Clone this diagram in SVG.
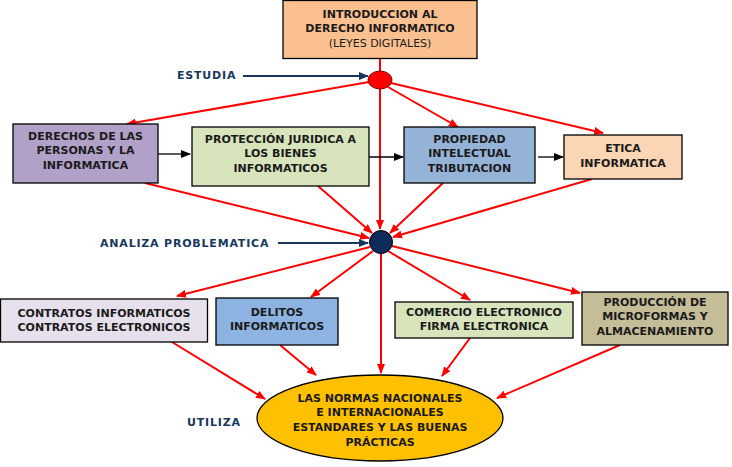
<svg xmlns="http://www.w3.org/2000/svg" width="732" height="467" viewBox="0 0 732 467">
<defs>
<marker id="ar" markerWidth="10" markerHeight="8" refX="9" refY="4" orient="auto" markerUnits="userSpaceOnUse"><path d="M0,0 L10,4 L0,8 z" fill="#FF0000"/></marker>
<marker id="ab" markerWidth="10" markerHeight="8" refX="9" refY="4" orient="auto" markerUnits="userSpaceOnUse"><path d="M0,0 L10,4 L0,8 z" fill="#000000"/></marker>
<marker id="an" markerWidth="10" markerHeight="8" refX="9" refY="4" orient="auto" markerUnits="userSpaceOnUse"><path d="M0,0 L10,4 L0,8 z" fill="#17375E"/></marker>
<style>
.box{stroke:#000;stroke-width:1.3}
.t{font-family:"DejaVu Sans",Verdana,sans-serif;font-size:11px;font-weight:bold;fill:#1a1a1a;text-anchor:middle}
.r{font-weight:normal}
.lbl{font-family:"DejaVu Sans",Verdana,sans-serif;font-size:11px;font-weight:bold;fill:#17375E;letter-spacing:0.8px}
.red{stroke:#FF0000;stroke-width:2;fill:none;marker-end:url(#ar)}
.redp{stroke:#FF0000;stroke-width:2;fill:none}
.blk{stroke:#000;stroke-width:1.3;fill:none;marker-end:url(#ab)}
.nav{stroke:#17375E;stroke-width:2;fill:none;marker-end:url(#an)}
</style>
</defs>
<rect width="732" height="467" fill="#FFFFFF"/>
<g id="connectors">
<line class="redp" x1="380" y1="58" x2="380" y2="72"/>
<line class="red" x1="380" y1="89" x2="380" y2="229"/>
<line class="red" x1="369" y1="82" x2="127" y2="124"/>
<line class="red" x1="388" y1="87" x2="458" y2="127"/>
<line class="red" x1="391" y1="83" x2="603" y2="133"/>
<line class="blk" x1="158" y1="154" x2="190" y2="154"/>
<line class="blk" x1="369" y1="157" x2="403" y2="157"/>
<line class="blk" x1="538" y1="157" x2="563" y2="157"/>
<line class="red" x1="145" y1="183" x2="369" y2="238"/>
<line class="red" x1="318" y1="186" x2="372" y2="233"/>
<line class="red" x1="443" y1="183" x2="390" y2="233"/>
<line class="red" x1="592" y1="179" x2="393" y2="237"/>
<line class="red" x1="370" y1="247" x2="177" y2="296"/>
<line class="red" x1="373" y1="251" x2="311" y2="297"/>
<line class="red" x1="388" y1="251" x2="470" y2="300"/>
<line class="red" x1="392" y1="246" x2="580" y2="293"/>
<line class="red" x1="381" y1="254" x2="381" y2="373"/>
<line class="red" x1="172" y1="342" x2="265" y2="399"/>
<line class="red" x1="280" y1="345" x2="316" y2="375"/>
<line class="red" x1="470" y1="338" x2="442" y2="376"/>
<line class="red" x1="620" y1="345" x2="497" y2="398"/>
<line class="nav" x1="243" y1="76" x2="368" y2="76"/>
<line class="nav" x1="278" y1="243" x2="368" y2="243"/>
</g>
<g id="n-intro">
<rect class="box" x="283" y="0.5" width="194" height="58" fill="#FAC090"/>
<text class="t" x="380" y="18">INTRODUCCION AL</text>
<text class="t" x="380" y="32">DERECHO INFORMATICO</text>
<text class="t r" x="380" y="47">(LEYES DIGITALES)</text>
</g>
<g id="n-estudia">
<ellipse cx="380" cy="80" rx="12" ry="9" fill="#FF0000" stroke="#800000" stroke-width="1"/>
<text class="lbl" x="177" y="79">ESTUDIA</text>
</g>
<g id="n-derechos">
<rect class="box" x="13" y="124" width="145" height="59" fill="#B1A0C7"/>
<text class="t" x="85.5" y="140">DERECHOS DE LAS</text>
<text class="t" x="85.5" y="154">PERSONAS Y LA</text>
<text class="t" x="85.5" y="169">INFORMATICA</text>
</g>
<g id="n-proteccion">
<rect class="box" x="192" y="127" width="177" height="59" fill="#D7E4BC"/>
<text class="t" x="280.5" y="143">PROTECCIÓN JURIDICA A</text>
<text class="t" x="280.5" y="157">LOS BIENES</text>
<text class="t" x="280.5" y="172">INFORMATICOS</text>
</g>
<g id="n-propiedad">
<rect class="box" x="404" y="127" width="131" height="56" fill="#95B3D7"/>
<text class="t" x="469.5" y="143">PROPIEDAD</text>
<text class="t" x="469.5" y="157">INTELECTUAL</text>
<text class="t" x="469.5" y="172">TRIBUTACION</text>
</g>
<g id="n-etica">
<rect class="box" x="564" y="135" width="118" height="44" fill="#FCD5B4"/>
<text class="t" x="623" y="152">ETICA</text>
<text class="t" x="623" y="167">INFORMATICA</text>
</g>
<g id="n-analiza">
<circle cx="381" cy="242" r="11.5" fill="#0F2B5B" stroke="#000" stroke-width="1"/>
<text class="lbl" x="100" y="247">ANALIZA PROBLEMATICA</text>
</g>
<g id="n-contratos">
<rect class="box" x="0.5" y="299" width="207" height="43" fill="#E6E0EC"/>
<text class="t" x="104" y="317">CONTRATOS INFORMATICOS</text>
<text class="t" x="104" y="331">CONTRATOS ELECTRONICOS</text>
</g>
<g id="n-delitos">
<rect class="box" x="216" y="298" width="122" height="47" fill="#8DB3E2"/>
<text class="t" x="277" y="316">DELITOS</text>
<text class="t" x="277" y="330">INFORMATICOS</text>
</g>
<g id="n-comercio">
<rect class="box" x="395" y="302" width="178" height="36" fill="#D8E4BC"/>
<text class="t" x="484" y="316">COMERCIO ELECTRONICO</text>
<text class="t" x="484" y="330">FIRMA ELECTRONICA</text>
</g>
<g id="n-produccion">
<rect class="box" x="582" y="292" width="146" height="53" fill="#C4BD97"/>
<text class="t" x="655" y="306">PRODUCCIÓN DE</text>
<text class="t" x="655" y="320">MICROFORMAS Y</text>
<text class="t" x="655" y="335">ALMACENAMIENTO</text>
</g>
<g id="n-normas">
<ellipse cx="380" cy="418" rx="123" ry="43" fill="#FFC000" stroke="#000" stroke-width="1.3"/>
<text class="t" x="380" y="402">LAS NORMAS NACIONALES</text>
<text class="t" x="380" y="416">E INTERNACIONALES</text>
<text class="t" x="380" y="431">ESTANDARES Y LAS BUENAS</text>
<text class="t" x="380" y="446">PRÁCTICAS</text>
<text class="lbl" x="187" y="426">UTILIZA</text>
</g>
</svg>
